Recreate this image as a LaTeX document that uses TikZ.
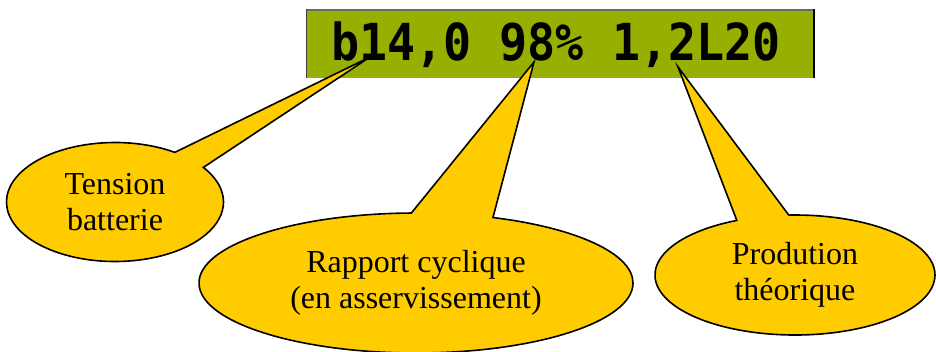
\documentclass[tikz,border=0pt]{standalone}
\usepackage{fontspec}
\setmainfont{Liberation Serif}
\newfontfamily\lcdfont{DejaVu Sans Mono}
\usetikzlibrary{shapes.callouts}
\definecolor{lcdgreen}{RGB}{150,175,0}
\definecolor{bubblefill}{RGB}{255,204,0}
\definecolor{lcdedge}{RGB}{105,105,95}

\begin{document}
\begin{tikzpicture}[x=1pt,y=-1pt,
  bubble/.style={ellipse callout, draw=black, fill=bubblefill, line width=1.6pt,
    inner sep=0pt, outer sep=0pt, align=center,
    font=\fontsize{32}{35.5}\selectfont},
  lcdtxt/.style={font=\lcdfont\bfseries\fontsize{51}{51}\selectfont, inner sep=0pt, xscale=0.915}]
\useasboundingbox (0,0) rectangle (936,351);

% LCD display panel
\fill[lcdgreen] (306,9) rectangle (815,78);
\draw[lcdedge, line width=1.5pt] (306,9.75) -- (815,9.75);
\draw[black!75, line width=1.2pt] (306.6,9) -- (306.6,78);
\draw[black, line width=2pt] (814,9) -- (814,78);
\node[lcdtxt, anchor=base] (lcd) at (556,60) {b14,0 98\% 1,2L20};

% points of the display the bubbles refer to
\coordinate (tipV) at (370,57);
\coordinate (tipD) at (534,62);
\coordinate (tipP) at (678,67);

% callout bubbles
\node[bubble, minimum width=217pt, minimum height=119pt,
  callout absolute pointer={(tipV)}, callout pointer arc=21]
  (tension) at (115,202) {Tension\\batterie};
\node[bubble, minimum width=434pt, minimum height=140pt,
  callout absolute pointer={(tipD)}, callout pointer arc=22]
  (rapport) at (416,283) {Rapport cyclique\\(en asservissement)};
\node[bubble, minimum width=280pt, minimum height=120pt,
  callout absolute pointer={(tipP)}, callout pointer arc=22]
  (prod) at (795,275) {Prodution\\théorique};
\end{tikzpicture}
\end{document}
